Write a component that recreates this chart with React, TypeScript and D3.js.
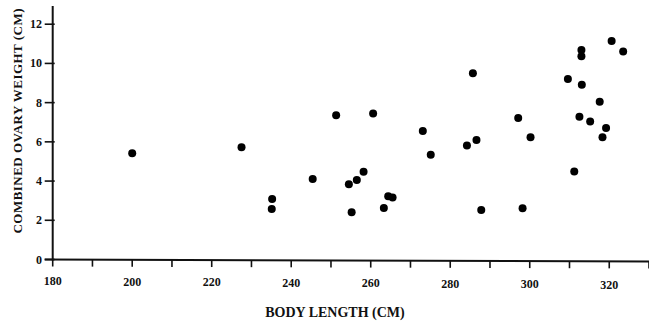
import React from "react";
import * as d3 from "d3";

const bodyLength: number[] = [
  200.0, 227.5, 235.2, 235.1, 245.4, 251.3, 254.5, 255.2, 256.5, 258.2,
  260.6, 263.3, 264.4, 265.5, 273.1, 275.1, 284.2, 285.7, 286.6, 287.8,
  297.1, 298.2, 300.2, 309.6, 311.2, 312.5, 313.0, 313.0, 313.1, 315.2,
  317.6, 318.3, 319.2, 320.6, 323.5,
];
const ovaryWeight: number[] = [
  5.42, 5.73, 3.08, 2.57, 4.1, 7.36, 3.84, 2.41, 4.05, 4.47,
  7.45, 2.63, 3.23, 3.16, 6.55, 5.34, 5.82, 9.5, 6.1, 2.53,
  7.22, 2.62, 6.24, 9.2, 4.49, 7.28, 10.68, 10.37, 8.91, 7.04,
  8.04, 6.24, 6.7, 11.14, 10.61,
];
const xTicks: number[] = [180, 190, 200, 210, 220, 230, 240, 250, 260, 270, 280, 290, 300, 310, 320, 330];
const xTickLabels: number[] = [180, 200, 220, 240, 260, 280, 300, 320];
const yTicks: number[] = [0, 2, 4, 6, 8, 10, 12];
const xTitle = "BODY LENGTH (CM)";
const yTitle = "COMBINED OVARY WEIGHT (CM)";

const W = 649;
const H = 325;

export default function App() {
  const x = d3.scaleLinear().domain([180, 330]).range([52.7, 649]);
  const y = d3.scaleLinear().domain([0, 12]).range([259.5, 24.2]);
  const font = "'Liberation Serif', 'DejaVu Serif', serif";
  const x0 = x(180);
  const y0 = y(0);
  return (
    <svg
      width={W}
      height={H}
      viewBox={`0 0 ${W} ${H}`}
      style={{ position: "absolute", left: 0, top: 0, background: "#fff" }}
    >
      <rect x={0} y={0} width={W} height={H} fill="#fff" />
      {/* axes */}
      <line x1={x0} y1={y0 + 1} x2={x0} y2={6} stroke="#111" strokeWidth={2} />
      <line x1={x0 - 8} y1={y0} x2={W} y2={y0 + 2} stroke="#111" strokeWidth={2} />
      {xTicks.map((t) => (
        <line
          key={"xt" + t}
          x1={x(t)}
          x2={x(t)}
          y1={y0 + ((x(t) - x0) / (W - x0)) * 2}
          y2={y0 + 7 + ((x(t) - x0) / (W - x0)) * 2}
          stroke="#111"
          strokeWidth={1.6}
        />
      ))}
      {yTicks.map((t) => (
        <line key={"yt" + t} x1={x0 - 8} x2={x0 + 2} y1={y(t)} y2={y(t)} stroke="#111" strokeWidth={1.6} />
      ))}
      {xTickLabels.map((t) => (
        <text
          key={"xl" + t}
          x={x(t)}
          y={285 + ((x(t) - x0) / (W - x0)) * 4}
          textAnchor="middle"
          fontFamily={font}
          fontWeight="bold"
          fontSize={12}
          fill="#111"
        >
          {t}
        </text>
      ))}
      {yTicks.map((t) => (
        <text
          key={"yl" + t}
          x={42}
          y={y(t) + 4}
          textAnchor="end"
          fontFamily={font}
          fontWeight="bold"
          fontSize={12}
          fill="#111"
        >
          {t}
        </text>
      ))}
      <text
        x={335}
        y={317}
        textAnchor="middle"
        fontFamily={font}
        fontWeight="bold"
        fontSize={14}
        fill="#111"
      >
        {xTitle}
      </text>
      <text
        transform={`translate(22,121) rotate(-90)`}
        textAnchor="middle"
        fontFamily={font}
        fontWeight="bold"
        fontSize={13}
        textLength={225}
        lengthAdjust="spacing"
        fill="#111"
      >
        {yTitle}
      </text>
      {bodyLength.map((b, i) => (
        <circle key={"p" + i} cx={x(b)} cy={y(ovaryWeight[i])} r={4} fill="#000" />
      ))}
    </svg>
  );
}
